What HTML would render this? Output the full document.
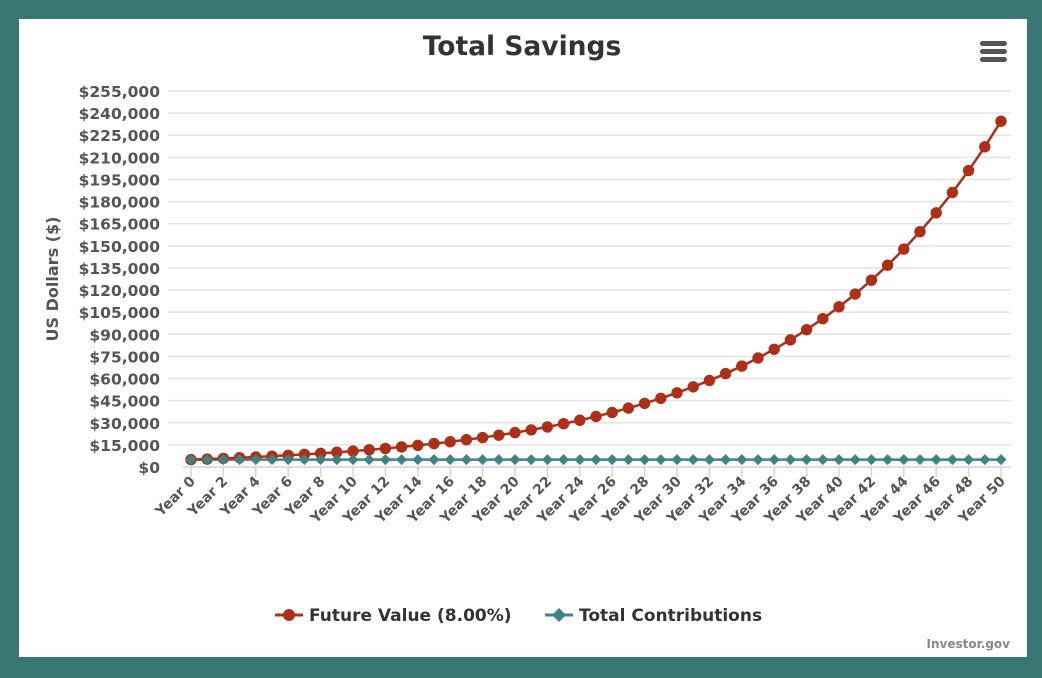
<!DOCTYPE html>
<html><head><meta charset="utf-8"><style>
html,body{margin:0;padding:0;width:1042px;height:678px;background:#387774;overflow:hidden}
#w{position:absolute;left:19px;top:19px;width:1008px;height:638px;background:#fff}
svg{position:absolute;left:0;top:0}
text{font-family:"DejaVu Sans",sans-serif;font-weight:bold}
</style></head><body>
<div id="w"></div>
<svg id="s" width="1042" height="678" xmlns="http://www.w3.org/2000/svg">
<text x="522" y="55" text-anchor="middle" font-size="26.5" fill="#333">Total Savings</text>
<g fill="#555"><rect x="980" y="41" width="27" height="5" rx="2.5"/><rect x="980" y="49" width="27" height="5" rx="2.5"/><rect x="980" y="57" width="27" height="5" rx="2.5"/></g>
<text transform="translate(58,279) rotate(-90)" text-anchor="middle" font-size="16" fill="#555">US Dollars ($)</text>
<text x="1010" y="648" text-anchor="end" font-size="12" fill="#888">Investor.gov</text>
<g font-size="17" fill="#333">
<line x1="275" y1="615" x2="303" y2="615" stroke="#ac2f18" stroke-width="3"/><circle cx="289" cy="615" r="6" fill="#ac2f18"/>
<text x="309" y="621">Future Value (8.00%)</text>
<line x1="545" y1="615" x2="573" y2="615" stroke="#3f8482" stroke-width="3"/><path d="M559 608 L566 615 L559 622 L552 615Z" fill="#3f8482"/>
<text x="579" y="621">Total Contributions</text>
</g>
<g id="g"></g>
</svg>
<script>
var g=document.getElementById('g'),h='';
function Y(v){return 467-v*(376/255000);}
function X(i){return 191+i*16.2;}
for(var k=0;k<=17;k++){var v=k*15000,y=Y(v);
 if(k>0)h+='<line x1="168" x2="1011" y1="'+y+'" y2="'+y+'" stroke="#e3e3e3" stroke-width="1.5"/>';
 h+='<text x="160" y="'+(y+6)+'" text-anchor="end" font-size="15.5" fill="#555">$'+v.toLocaleString('en-US')+'</text>';}
h+='<line x1="183" x2="1011" y1="467" y2="467" stroke="#ccd6eb" stroke-width="1.5"/>';
for(var i=0;i<=50;i+=2){var x=X(i);
 h+='<line x1="'+x+'" x2="'+x+'" y1="467" y2="477" stroke="#ccd6eb" stroke-width="1.5"/>';
 h+='<text transform="translate('+(x+5)+',482) rotate(-45)" text-anchor="end" font-size="14" fill="#555">Year '+i+'</text>';}
var p='',q='';
for(var i=0;i<=50;i++){p+=(i?'L':'M')+X(i)+' '+Y(5000*Math.pow(1.08,i));q+=(i?'L':'M')+X(i)+' '+Y(5000);}
h+='<path d="'+q+'" fill="none" stroke="#3f8482" stroke-width="2.5"/>';
h+='<path d="'+p+'" fill="none" stroke="#ac2f18" stroke-width="2.5"/>';
for(var i=0;i<=50;i++){h+='<circle cx="'+X(i)+'" cy="'+Y(5000*Math.pow(1.08,i))+'" r="5.7" fill="#ac2f18"/>';}
for(var i=0;i<=50;i++){var x=X(i),y=Y(5000);h+='<path d="M'+x+' '+(y-5.5)+'L'+(x+5.5)+' '+y+'L'+x+' '+(y+5.5)+'L'+(x-5.5)+' '+y+'Z" fill="#3f8482"/>';}
g.innerHTML=h;
</script>
</body></html>
